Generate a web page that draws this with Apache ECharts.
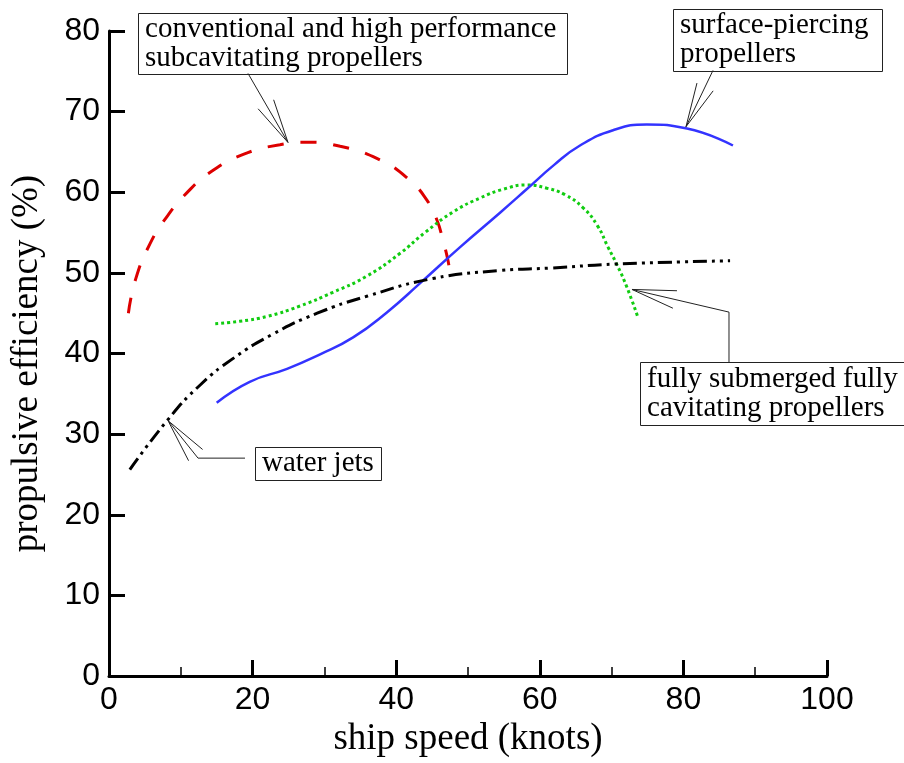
<!DOCTYPE html>
<html><head><meta charset="utf-8">
<script src="https://cdn.jsdelivr.net/npm/echarts@6/dist/echarts.min.js"></script>
<style>html,body{margin:0;padding:0;background:#fff}#c{width:904px;height:763px}</style>
</head><body><div id="c"></div>
<script>
// ---- data ----
const conventionalSpeed = [2.7, 3.7, 5.7, 8.0, 10.8, 14.3, 18.7, 23.8, 27.6, 32.2, 37.3, 41.5, 44.3, 45.7, 46.5, 47.2, 47.5];
const conventionalEff   = [45.0, 49.2, 53.6, 56.9, 59.9, 62.6, 64.7, 65.9, 66.2, 65.7, 64.2, 61.8, 59.0, 56.5, 54.1, 51.6, 49.9];

const submergedSpeed = [14.8, 18.2, 22.0, 26.6, 31.2, 35.9, 40.5, 44.0, 48.0, 51.7, 55.0, 58.2, 61.0, 63.5, 66.0, 68.0, 69.5, 70.7, 72.1, 73.7];
const submergedEff   = [43.7, 44.0, 44.6, 45.9, 47.6, 49.6, 52.4, 55.0, 57.6, 59.3, 60.4, 60.9, 60.5, 59.7, 58.1, 55.9, 53.2, 51.1, 48.3, 44.4];

const piercingSpeed = [15.0, 19.6, 24.8, 29.4, 34.0, 38.7, 43.3, 48.9, 54.5, 58.2, 62.0, 65.6, 70.2, 74.9, 80.5, 86.9];
const piercingEff   = [33.9, 36.5, 38.1, 39.9, 42.0, 45.1, 48.7, 53.2, 57.5, 60.4, 63.4, 65.8, 67.7, 68.4, 67.9, 65.8];

const waterjetSpeed = [2.9, 8.2, 12.7, 17.3, 22.8, 29.0, 35.9, 45.1, 54.5, 61.4, 70.7, 86.5];
const waterjetEff   = [25.6, 31.8, 36.1, 39.4, 42.4, 45.0, 47.1, 49.3, 50.3, 50.6, 51.1, 51.5];

const xAxisTitle = 'ship speed (knots)';
const yAxisTitle = 'propulsive efficiency (%)';

// annotation texts and anchor points (in data coordinates)
const annotationTexts = [
  ['conventional and high performance', 'subcavitating propellers'],
  ['surface-piercing', 'propellers'],
  ['water jets'],
  ['fully submerged fully', 'cavitating propellers']
];
const annotationBoxCorner = [[4.04, 82.2], [78.55, 82.69], [20.33, 28.38], [73.96, 38.90]];
const annotationLeaders = [
  [[19.36, 74.74], [24.93, 66.18]],
  [[84.12, 75.11], [80.36, 68.13]],
  [[18.94, 27.03], [12.40, 27.03], [8.22, 31.68]],
  [[86.35, 38.90], [86.35, 45.14], [72.84, 47.95]]
];

// ---- styles ----
const boxSizes = [[429, 61], [209, 62], [126, 33], [264, 63]];
const serif = '"Liberation Serif", "Times New Roman", serif';
const sans = '"Liberation Sans", Arial, sans-serif';

function zip(a, b) { return a.map((v, i) => [v, b[i]]); }

const chart = echarts.init(document.getElementById('c'), null, {renderer: 'canvas'});

const option = {
  animation: false,
  backgroundColor: '#fff',
  grid: {left: 109, right: 77, top: 31, bottom: 78, containLabel: false},
  xAxis: {
    type: 'value', min: 0, max: 100, interval: 20,
    name: xAxisTitle, nameLocation: 'middle', nameGap: 32,
    nameTextStyle: {fontFamily: serif, fontSize: 37, color: '#000'},
    axisLine: {show: true, onZero: false, lineStyle: {color: '#000', width: 3}},
    axisTick: {show: true, inside: true, length: 16, lineStyle: {color: '#000', width: 3}},
    minorTick: {show: true, splitNumber: 2, length: 9, lineStyle: {color: '#000', width: 1.5}},
    axisLabel: {fontFamily: sans, fontSize: 32, color: '#000', margin: 8},
    splitLine: {show: false}
  },
  yAxis: {
    type: 'value', min: 0, max: 80, interval: 10,
    name: yAxisTitle, nameLocation: 'middle', nameGap: 63, nameRotate: 90,
    nameTextStyle: {fontFamily: serif, fontSize: 37, color: '#000', padding: [0, 20, 0, 0]},
    axisLine: {show: true, onZero: false, lineStyle: {color: '#000', width: 3}},
    axisTick: {show: true, inside: true, length: 16, lineStyle: {color: '#000', width: 3}},
    axisLabel: {fontFamily: sans, fontSize: 32, color: '#000', margin: 9},
    splitLine: {show: false}
  },
  series: [
    {name: 'conventional', type: 'line', data: zip(conventionalSpeed, conventionalEff), showSymbol: false, smooth: 0.5,
     lineStyle: {color: '#dd0000', width: 3, type: [16, 17]}},
    {name: 'submerged', type: 'line', data: zip(submergedSpeed, submergedEff), showSymbol: false, smooth: 0.5,
     lineStyle: {color: '#11cc11', width: 3, type: [3, 3]}},
    {name: 'piercing', type: 'line', data: zip(piercingSpeed, piercingEff), showSymbol: false, smooth: 0.5,
     lineStyle: {color: '#3333ff', width: 2.5, type: 'solid'}},
    {name: 'waterjet', type: 'line', data: zip(waterjetSpeed, waterjetEff), showSymbol: false, smooth: 0.5,
     lineStyle: {color: '#000', width: 3, type: [14, 5, 3, 5, 3, 5]}}
  ]
};
chart.setOption(option);

// ---- annotations (boxes, leader lines, open arrowheads) ----
const graphics = [];
const titles = [];
const headLen = 45, headAng = 11.5 * Math.PI / 180;
annotationTexts.forEach((lines, i) => {
  const corner = chart.convertToPixel({gridIndex: 0}, annotationBoxCorner[i]);
  const [w, h] = boxSizes[i];
  graphics.push({type: 'rect', z: 100, shape: {x: Math.round(corner[0]) + 0.5, y: Math.round(corner[1]) + 0.5, width: w, height: h},
    style: {fill: '#fff', stroke: '#222', lineWidth: 1}});
  titles.push({text: lines.join('\n'), left: corner[0] + 7, top: corner[1] + 2, padding: 0, z: 120,
    textStyle: {fontFamily: serif, fontSize: 29, lineHeight: 29, color: '#000', fontWeight: 'normal'}});
  const pts = annotationLeaders[i].map(p => chart.convertToPixel({gridIndex: 0}, p));
  graphics.push({type: 'polyline', z: 100, shape: {points: pts}, style: {stroke: '#222', lineWidth: 1, fill: null}});
  const tip = pts[pts.length - 1], prev = pts[pts.length - 2];
  const base = Math.atan2(prev[1] - tip[1], prev[0] - tip[0]);
  [-headAng, headAng].forEach(a => {
    const ang = base + a;
    graphics.push({type: 'line', z: 100, shape: {x1: tip[0], y1: tip[1], x2: tip[0] + headLen * Math.cos(ang), y2: tip[1] + headLen * Math.sin(ang)},
      style: {stroke: '#222', lineWidth: 1}});
  });
});
chart.setOption({graphic: graphics, title: titles});
</script>
</body></html>
